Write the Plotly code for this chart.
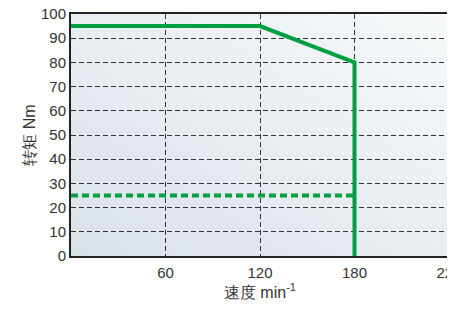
import base64
import plotly.graph_objects as go

# Data
curve_speed = [0, 120, 180, 180]
curve_torque = [95, 95, 80, 0]
cont_speed = [0, 180]
cont_torque = [25, 25]
x_tickvals = [60, 120, 180, 240]
x_ticktext = ["60", "120", "180", "220"]
y_tickvals = list(range(0, 101, 10))

GREEN = "#00a040"
FONT = "Liberation Sans Narrow, Liberation Sans, Arial, sans-serif"

svg = ('<svg xmlns="http://www.w3.org/2000/svg" width="100" height="100" preserveAspectRatio="none">'
       '<defs><linearGradient id="g" x1="0" y1="1" x2="1" y2="0">'
       '<stop offset="0" stop-color="#d9e1e8"/><stop offset="1" stop-color="#f7f9fa"/>'
       '</linearGradient></defs><rect width="100" height="100" fill="url(#g)"/></svg>')
bg_src = "data:image/svg+xml;base64," + base64.b64encode(svg.encode()).decode()

fig = go.Figure()
fig.add_trace(go.Scatter(x=curve_speed, y=curve_torque, mode="lines",
                         line=dict(color=GREEN, width=4), showlegend=False))
fig.add_trace(go.Scatter(x=cont_speed, y=cont_torque, mode="lines",
                         line=dict(color=GREEN, width=4, dash="7px,4px"), showlegend=False))

fig.add_layout_image(dict(source=bg_src, xref="paper", yref="paper", x=0, y=1,
                          sizex=1, sizey=1, sizing="stretch", layer="below",
                          xanchor="left", yanchor="top"))

fig.update_layout(
    width=447, height=308,
    margin=dict(l=63, r=6, t=6, b=60),
    paper_bgcolor="white",
    plot_bgcolor="rgba(0,0,0,0)",
    font=dict(family=FONT, size=15, color="#333333"),
    xaxis=dict(range=[0, 240], tickvals=x_tickvals, ticktext=x_ticktext,
               showgrid=True, gridcolor="#333333", griddash="5px,3px", gridwidth=1,
               showline=True, linecolor="#222222", linewidth=2, mirror=True,
               zeroline=False, ticks="", ticklabelstandoff=2, automargin=False,
               ticklabeloverflow="allow",
               title=dict(text="速度 min<sup>-1</sup>", standoff=6,
                          font=dict(size=16))),
    yaxis=dict(range=[0, 100], tickvals=y_tickvals,
               showgrid=True, gridcolor="#333333", griddash="5px,3px", gridwidth=1,
               showline=True, linecolor="#222222", linewidth=2, mirror=True,
               zeroline=False, ticks="", automargin=False, ticklabeloverflow="allow",
               title=dict(text="转矩 Nm", standoff=1, font=dict(size=16))),
)

fig.write_html("out.html")
